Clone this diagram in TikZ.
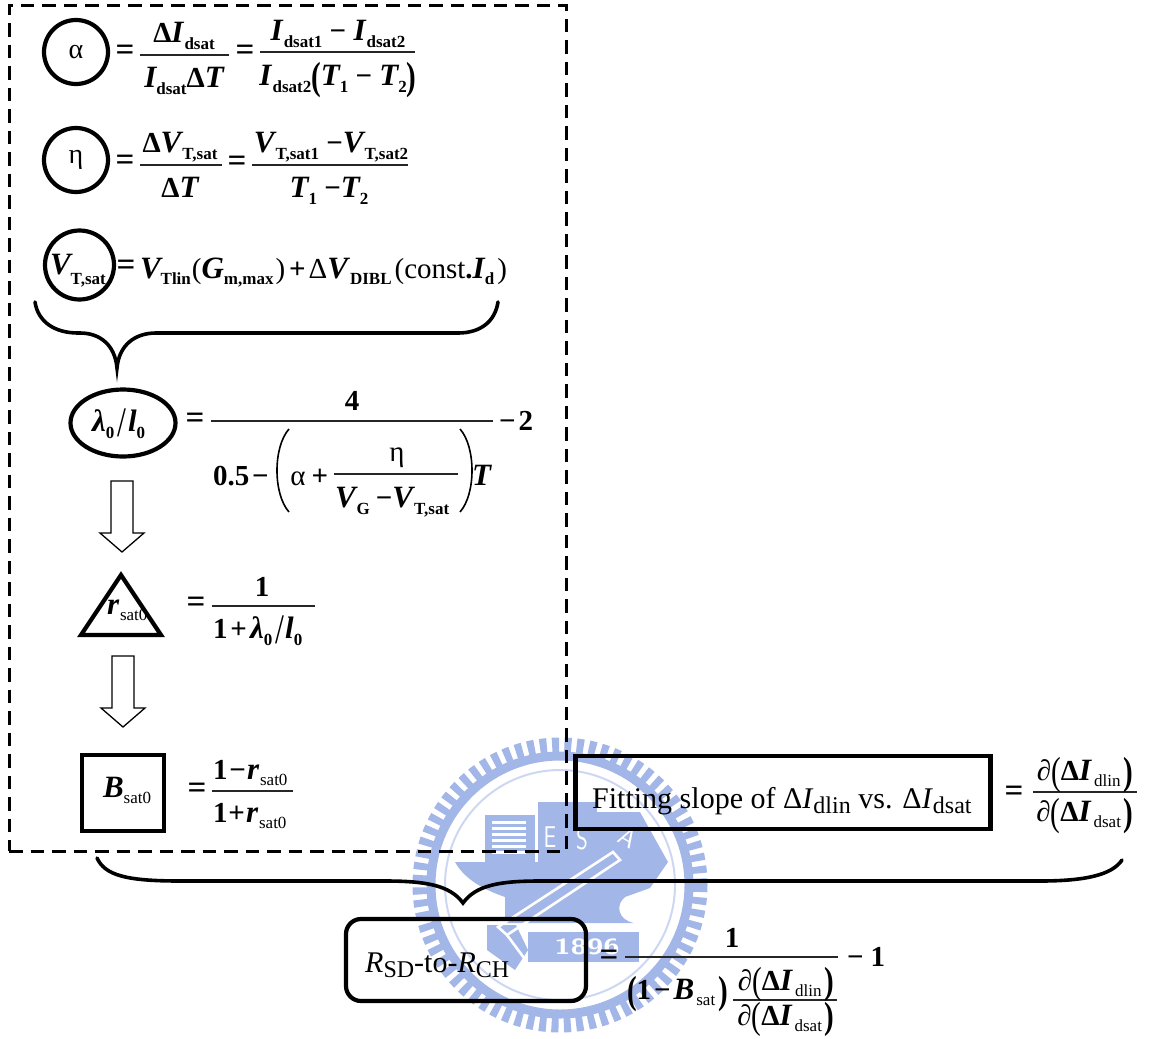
\documentclass[tikz,border=0pt]{standalone}
\usepackage{fontspec}
\usepackage{graphicx}
\usetikzlibrary{shapes.geometric}
\setmainfont{Liberation Serif}
\newcommand\FS[1]{\fontsize{#1}{#1}\selectfont}
\newcommand\BI[1]{{\FS{31}\bfseries\itshape #1}}
\newcommand\BB[1]{{\bfseries #1}}
\newcommand\sbb[1]{\raisebox{-7pt}{\FS{17}\bfseries\upshape #1}}
\newcommand\sbd[2]{\raisebox{-#1}{\FS{17}\bfseries\upshape #2}}
\newcommand\snn[1]{\raisebox{-6pt}{\FS{17}\mdseries\upshape #1}}
\newcommand\tall[2]{\raisebox{#2}{\scalebox{1}[#1]{(}}}
\newcommand\tallr[2]{\raisebox{#2}{\scalebox{1}[#1]{)}}}
\newcommand\HS[1]{\hspace{#1}}
\newcommand\bigslash{\mdseries\raisebox{-5pt}{\scalebox{1.1}[1.45]{/}}}
\definecolor{seal}{HTML}{A3B6E8}
\tikzset{
  x=1pt,y=-1pt,
  eq/.style={anchor=base west,inner sep=0pt,outer sep=0pt,font=\FS{29}\bfseries},
  eqc/.style={eq,anchor=base},
  eqsign/.style={inner sep=0pt,font=\FS{33}\bfseries},
  barline/.style={line width=1.1pt,black!85},
  thick shape/.style={draw,line width=4.2pt},
  hollow/.style={draw,line width=1.3pt,fill=white,line join=miter},
  bracecurve/.style={draw,line width=3.6pt,line cap=round},
  dashbox/.style={draw,line width=3pt,dash pattern=on 13.5pt off 8pt},
  sealtext/.style={inner sep=0pt,text=white,font=\FS{30}\sffamily},
}
\begin{document}
\begin{tikzpicture}
\useasboundingbox (0,0) rectangle (1149,1039);
% ---- watermark seal
\begin{scope}
\draw[seal,line width=15pt,dash pattern=on 7pt off 5.3pt] (560,885) circle (140);
\draw[seal,line width=9pt] (560,885) circle (129);
\draw[seal!55,line width=2pt] (560,885) circle (115);
% building with stripes
\fill[seal] (485,815) rectangle (535,862);
\foreach \yy in {821,827,833,839,845,851}{\fill[white] (492,\yy) rectangle (526,\yy+2.5);}
\fill[seal] (538,802) rectangle (597,862);
% hull
\fill[seal] (455,862) -- (668,862) -- (650,888) -- (625,897) .. controls (615,905) and (618,920) .. (634,923)
  -- (505,923) -- (505,897) .. controls (485,890) and (465,880) .. (455,862) -- cycle;
% plate
\fill[seal] (528,932) rectangle (639,962);
\fill[seal] (487,925) -- (516,925) -- (528,950) -- (515,970) -- (487,950) -- cycle;
\fill[seal] (597,812) -- (640,812) -- (668,862) -- (597,862) -- cycle;
% white pen band
\draw[white,line width=2.6pt] (498,927) -- (613,852) -- (620,860) -- (507,935) -- cycle;
\draw[white,line width=2.6pt] (507,935) -- (527,962);
\end{scope}
\node[sealtext,xscale=.75] (sE) at (550,837) {E};
\node[sealtext,xscale=.75] (sS) at (582,839) {S};
\node[sealtext,rotate=-30,font=\FS{26}\sffamily] (sA) at (628,838) {A};
\node[sealtext,font=\FS{22}\bfseries\sffamily,xscale=1.35] (s96) at (587,947) {1896};
% ---- dashed frame
\node[dashbox,minimum width=557pt,minimum height=846pt,inner sep=0pt] (frame) at (287.5,428) {};
% ---- alpha
\node[thick shape,circle,minimum size=64pt,inner sep=0pt,font=\FS{28}] (ca) at (76,52) {α};
\node[eqsign] (e1) at (125,53) {=};
\coordinate (b1a) at (140,55); \coordinate (b1b) at (229,55);
\draw[barline] (b1a) -- (b1b);
\node[eqc] (n1) at (184,42) {Δ\BI{I}\HS{1pt}\sbb{dsat}};
\node[eqc] (d1) at (184,87) {\BI{I}\sbb{dsat}Δ\BI{T}};
\node[eqsign] (e2) at (245,53) {=};
\coordinate (b2a) at (260,52); \coordinate (b2b) at (415,52);
\draw[barline] (b2a) -- (b2b);
\node[eqc] (n2) at (338,40) {\BI{I}\HS{1pt}\sbb{dsat1} − \BI{I}\HS{1pt}\sbb{dsat2}};
\node[eqc] (d2) at (338,85) {\BI{I}\HS{1pt}\sbb{dsat2}\tall{1.35}{-.15em}\BI{T}\sbb{1} − \BI{T}\sbb{2}\tallr{1.35}{-.15em}};
% ---- eta
\node[thick shape,circle,minimum size=64pt,inner sep=0pt,font=\FS{28}] (ce) at (76,160) {η};
\node[eqsign] (e3) at (125,163) {=};
\coordinate (b3a) at (140,165); \coordinate (b3b) at (222,165);
\draw[barline] (b3a) -- (b3b);
\node[eqc] (n3) at (180,152) {Δ\BI{V}\HS{1pt}\sbb{T,sat}};
\node[eqc] (d3) at (180,197) {Δ\BI{T}};
\node[eqsign] (e4) at (237,164) {=};
\coordinate (b4a) at (252,165); \coordinate (b4b) at (408,165);
\draw[barline] (b4a) -- (b4b);
\node[eqc] (n4) at (331,152) {\BI{V}\HS{1pt}\sbb{T,sat1} −\BI{V}\HS{1pt}\sbb{T,sat2}};
\node[eqc] (d4) at (329,197) {\BI{T}\sbb{1} −\BI{T}\sbb{2}};
% ---- VTsat
\node[thick shape,circle,minimum size=69pt,inner sep=0pt] (cv) at (79.5,265) {};
\node[eq] (tv) at (50,274) {\BI{V}\sbd{10pt}{T,sat}};
\node[eqsign] (e5) at (126,268) {=};
\node[eq] (t5) at (140,278) {\BI{V}\sbd{6pt}{Tlin}\HS{1pt}\mdseries(\BI{G}\sbd{6pt}{m,max}\HS{2pt}\mdseries)\HS{4pt}\BB{+}\HS{3pt}Δ\BI{V}\HS{2pt}\sbd{6pt}{DIBL}\HS{3pt}\mdseries(const\BB{.}\BI{I}\sbd{6pt}{d}\HS{3pt}\mdseries)};
% ---- brace 1
\coordinate (br1a) at (35,302); \coordinate (br1tip) at (117,368); \coordinate (br1b) at (498,302);
\path[bracecurve] (br1a) .. controls (38,322) and (55,333) .. (78,333) -- (80,333)
  .. controls (100,333) and (115,345) .. (br1tip)
  .. controls (119,345) and (135,333) .. (156,333) -- (458,333)
  .. controls (480,333) and (495,322) .. (br1b);
% ---- lambda
\node[thick shape,ellipse,minimum width=105pt,minimum height=67pt,inner sep=0pt] (cl) at (123,423) {};
\node[eq] (tl) at (92,431) {\BI{λ}\sbb{0}\HS{3pt}\bigslash\HS{2pt}\BI{l}\sbb{0}};
\node[eqsign] (e6) at (195,421) {=};
\coordinate (b6a) at (211,421); \coordinate (b6b) at (493,421);
\draw[barline] (b6a) -- (b6b);
\node[eqc] (n6) at (352,410) {4};
\node[eq] (t6b) at (499,430) {−\HS{3pt}2};
\node[eq] (d6a) at (213,485) {0.5\HS{3pt}−};
\draw[line width=1.6pt] (289,429) .. controls (273,447) and (273,494) .. (289,512);
\node[eqc,font=\FS{29}] (d6al) at (298,485) {α};
\node[eqc,font=\FS{29}\bfseries] (d6p) at (320,485) {+};
\coordinate (b7a) at (334,474); \coordinate (b7b) at (458,474);
\draw[barline] (b7a) -- (b7b);
\node[eqc,font=\FS{29}] (n7) at (397,461) {η};
\node[eq] (d7) at (335,507) {\BI{V}\HS{1pt}\sbb{G}\HS{6pt}−\BI{V}\HS{1pt}\sbb{T,sat}};
\draw[line width=1.6pt] (460,429) .. controls (476,447) and (476,494) .. (460,512);
\node[eq] (d6t) at (472,485) {\BI{T}};
% ---- arrow 1
\node[inner sep=0pt,minimum size=0pt] (ab1) at (122,552) {};
\path[hollow] (111,481) -- (133,481) -- (133,533) -- (144,533) -- (ab1.center) -- (100,533) -- (111,533) -- cycle;
% ---- triangle
\path[thick shape,line join=miter] (121,575) -- (161,635) -- (81,635) -- cycle;
\node[eq] (tr) at (107,614) {\BI{r}\HS{1pt}\snn{sat0}};
\node[eqsign] (e8) at (196,605) {=};
\coordinate (b8a) at (212,606); \coordinate (b8b) at (315,606);
\draw[barline] (b8a) -- (b8b);
\node[eqc] (n8) at (262,596) {1};
\node[eq] (d8) at (213,638) {1\HS{3pt}+\HS{3pt}\BI{λ}\sbb{0}\HS{3pt}\bigslash\HS{1pt}\BI{l}\sbb{0}};
% ---- arrow 2
\node[inner sep=0pt,minimum size=0pt] (ab2) at (123,727) {};
\path[hollow] (112,656) -- (134,656) -- (134,708) -- (145,708) -- (ab2.center) -- (101,708) -- (112,708) -- cycle;
% ---- square
\node[thick shape,minimum width=82pt,minimum height=76pt,inner sep=0pt] (sq) at (123,793) {};
\node[eq] (ts) at (103,797) {\BI{B}\snn{sat0}};
\node[eqsign] (e9) at (197,791) {=};
\coordinate (b9a) at (212,791); \coordinate (b9b) at (293,791);
\draw[barline] (b9a) -- (b9b);
\node[eq] (n9) at (213,779) {1\HS{2pt}−\HS{1pt}\BI{r}\HS{1pt}\snn{sat0}};
\node[eq] (d9) at (213,822) {1\HS{1pt}+\HS{1pt}\BI{r}\HS{1pt}\snn{sat0}};
% ---- fitting box
\node[thick shape,minimum width=415pt,minimum height=73pt,inner sep=0pt] (fb) at (783,792.5) {};
\node[anchor=base west,inner sep=0pt,font=\FS{30}] (ft) at (592,808) {Fitting slope of Δ\textit{I}\raisebox{-.18em}{\FS{24}dlin} vs. Δ\textit{I}\raisebox{-.18em}{\FS{24}dsat}};
\node[eqsign] (e10) at (1014,794) {=};
\coordinate (b10a) at (1033,792); \coordinate (b10b) at (1137,792);
\draw[barline] (b10a) -- (b10b);
\node[eqc] (n10) at (1085,780) {\mdseries∂\tall{1.35}{-.15em}\bfseries Δ\BI{I}\HS{3pt}\snn{dlin}\HS{3pt}\tallr{1.35}{-.15em}};
\node[eqc] (d10) at (1085,821) {\mdseries∂\tall{1.35}{-.15em}\bfseries Δ\BI{I}\HS{3pt}\snn{dsat}\HS{3pt}\tallr{1.35}{-.15em}};
% ---- brace 2
\coordinate (br2a) at (97,858); \coordinate (br2tip) at (463,903); \coordinate (br2b) at (1122,860);
\path[bracecurve] (br2a) .. controls (105,875) and (125,881) .. (180,881) -- (385,881)
  .. controls (425,881) and (450,885) .. (br2tip)
  .. controls (476,885) and (500,881) .. (540,881) -- (1040,881)
  .. controls (1085,881) and (1112,875) .. (br2b);
% ---- result
\node[thick shape,rounded corners=15pt,minimum width=240pt,minimum height=82pt,inner sep=0pt] (rb) at (466,960) {};
\node[anchor=base west,inner sep=0pt,font=\FS{30}] (rt) at (365,972) {\textit{R}\raisebox{-.18em}{\FS{24}SD}-to-\textit{R}\raisebox{-.18em}{\FS{24}CH}};
\node[eqsign] (e11) at (609,958) {=};
\coordinate (b11a) at (625,957); \coordinate (b11b) at (838,957);
\draw[barline] (b11a) -- (b11b);
\node[eqc] (n11) at (732,947) {1};
\node[eq] (t11) at (847,966) {−\HS{7pt}1};
\node[eq] (d11) at (627,999) {\tall{1.35}{-.15em}1\HS{3pt}−\HS{3pt}\BI{B}\HS{2pt}\snn{sat}\HS{3pt}\tallr{1.35}{-.15em}};
\coordinate (b12a) at (733,1000); \coordinate (b12b) at (837,1000);
\draw[barline] (b12a) -- (b12b);
\node[eqc] (n12) at (786,990) {\mdseries∂\tall{1.3}{-.12em}\bfseries Δ\BI{I}\HS{3pt}\snn{dlin}\HS{3pt}\tallr{1.3}{-.12em}};
\node[eqc] (d12) at (786,1025) {\mdseries∂\tall{1.3}{-.12em}\bfseries Δ\BI{I}\HS{3pt}\snn{dsat}\HS{3pt}\tallr{1.3}{-.12em}};
\end{tikzpicture}
\end{document}
